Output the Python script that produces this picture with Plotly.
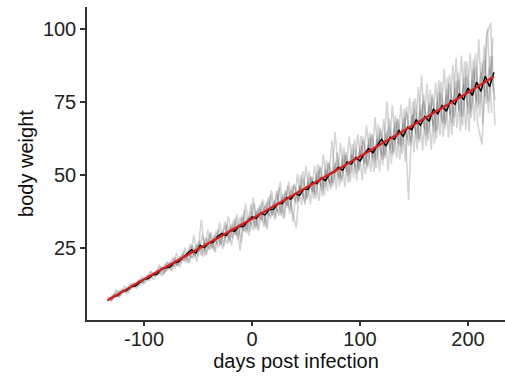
import plotly.graph_objects as go

# Measurement days (grid of the first animal); other animals were weighed 1-3 days later
DAYS = [-134, -130, -126, -122, -118, -114, -110, -106, -102, -98, -94, -90, -86, -82, -78,
        -74, -70, -66, -62, -58, -54, -50, -46, -42, -38, -34, -30, -26, -22, -18,
        -14, -10, -6, -2, 2, 6, 10, 14, 18, 22, 26, 30, 34, 38, 42,
        46, 50, 54, 58, 62, 66, 70, 74, 78, 82, 86, 90, 94, 98, 102,
        106, 110, 114, 118, 122, 126, 130, 134, 138, 142, 146, 150, 154, 158, 162,
        166, 170, 174, 178, 182, 186, 190, 194, 198, 202, 206, 210, 214, 218, 222]

ANIMAL_OFFSETS = [0, 1, 2, 3, 1, 3]

animal_1 = [8.4, 7.0, 10.5, 9.0, 11.9, 10.5, 13.1, 11.7, 15.1, 14.1, 17.0, 15.2, 19.2, 15.8, 20.3,
            17.1, 23.2, 19.5, 25.1, 19.7, 29.3, 22.1, 29.4, 22.7, 30.3, 23.4, 33.7, 25.6, 35.9, 28.2,
            36.6, 26.9, 40.2, 30.6, 40.4, 30.8, 41.6, 31.4, 44.8, 35.1, 47.5, 35.3, 47.7, 34.0, 50.4,
            39.7, 53.1, 39.9, 53.3, 41.1, 57.0, 44.4, 61.7, 45.1, 60.9, 45.8, 63.1, 49.0, 63.9, 48.2,
            67.1, 51.0, 69.8, 51.2, 69.1, 51.4, 73.8, 55.7, 74.1, 54.4, 76.3, 57.7, 80.1, 58.4, 81.3,
            58.7, 81.6, 63.5, 86.3, 62.7, 87.6, 66.0, 90.9, 65.3, 91.6, 68.5, 96.4, 67.3, 100.2, 71.1]

animal_2 = [6.8, 9.0, 8.5, 10.7, 9.9, 11.9, 11.4, 13.8, 13.1, 15.7, 15.0, 17.1, 16.0, 19.5, 17.8,
            20.9, 18.9, 23.1, 20.9, 25.4, 21.8, 27.4, 23.6, 28.4, 24.6, 29.9, 25.9, 32.6, 27.9, 34.7,
            29.1, 35.4, 30.2, 37.6, 32.4, 39.8, 33.6, 40.9, 36.3, 43.6, 37.0, 44.3, 38.2, 46.5, 40.9,
            48.7, 42.1, 49.4, 43.3, 52.6, 45.5, 53.9, 46.2, 55.1, 48.4, 57.8, 50.6, 59.0, 51.4, 61.7,
            53.1, 64.0, 55.3, 65.2, 55.6, 66.4, 57.8, 69.2, 60.1, 71.4, 61.3, 72.7, 62.1, 75.4, 64.3,
            76.7, 65.1, 78.0, 67.3, 81.2, 69.6, 82.5, 69.9, 83.8, 72.1, 87.0, 74.4, 89.3, 75.2, 90.6]

animal_3 = [7.7, 8.8, 8.6, 10.0, 11.1, 10.9, 12.7, 12.8, 14.5, 14.2, 15.8, 15.9, 18.0, 17.4, 19.3,
            18.7, 21.1, 20.8, 23.1, 21.7, 25.3, 23.8, 26.6, 24.7, 28.1, 26.6, 30.3, 28.6, 32.2, 29.7,
            33.3, 30.9, 35.2, 32.8, 37.4, 34.8, 39.3, 35.9, 40.3, 37.1, 42.5, 39.5, 44.7, 41.0, 46.1,
            42.2, 47.6, 44.2, 50.1, 46.1, 51.5, 47.1, 52.9, 49.1, 55.4, 51.1, 56.9, 52.0, 58.4, 53.7,
            60.8, 55.7, 62.3, 56.7, 63.9, 58.9, 66.3, 60.5, 67.6, 61.9, 70.1, 64.2, 72.1, 65.4, 73.6,
            66.7, 75.1, 68.3, 77.3, 70.4, 79.6, 72.0, 81.1, 73.3, 82.6, 75.3, 85.2, 76.8, 87.2, 78.3]

animal_4 = [6.4, 9.4, 8.2, 10.8, 9.4, 12.4, 11.2, 14.4, 12.9, 15.5, 14.2, 17.3, 15.4, 20.0, 17.3,
            21.8, 18.4, 23.8, 19.9, 25.9, 20.3, 34.6, 22.4, 30.2, 23.9, 31.4, 24.7, 33.4, 25.9, 35.2,
            24.1, 37.9, 29.2, 42.1, 31.4, 40.8, 32.1, 43.4, 34.8, 45.6, 35.0, 46.3, 37.7, 32.0, 49.9,
            39.7, 51.1, 41.9, 53.8, 42.6, 55.0, 44.9, 64.7, 46.1, 59.4, 47.3, 60.6, 48.0, 63.4, 50.2,
            64.6, 51.0, 67.3, 53.2, 75.1, 53.9, 70.3, 55.2, 72.6, 41.4, 75.3, 58.7, 84.1, 59.9, 79.3,
            60.7, 82.6, 63.0, 83.3, 63.7, 90.1, 65.0, 88.9, 64.8, 89.6, 67.5, 60.4, 97.3, 102.2, 67.1]

animal_5 = [7.9, 7.3, 10.1, 10.1, 9.6, 12.7, 11.7, 14.0, 12.8, 15.1, 16.7, 15.5, 18.7, 16.4, 19.6,
            21.6, 19.0, 22.3, 20.1, 26.4, 22.3, 26.6, 21.9, 31.2, 25.1, 30.9, 26.2, 34.1, 26.9, 33.2,
            27.6, 36.4, 31.2, 40.1, 31.4, 38.8, 32.1, 42.4, 35.8, 44.6, 36.0, 44.8, 36.7, 47.0, 40.9,
            51.2, 41.6, 49.4, 41.8, 53.1, 43.0, 54.4, 47.2, 57.6, 47.4, 56.8, 47.6, 62.0, 51.9, 63.2,
            52.1, 63.5, 52.3, 66.2, 56.6, 69.4, 56.8, 69.2, 57.1, 73.4, 59.8, 76.2, 61.1, 77.4, 61.8,
            77.7, 62.6, 82.0, 65.8, 84.2, 66.6, 85.0, 66.9, 88.8, 69.6, 91.5, 69.9, 94.3, 71.2, 97.1]

animal_6 = [7.0, 8.9, 8.1, 10.4, 10.1, 12.3, 12.5, 12.3, 14.6, 13.8, 16.1, 15.6, 18.5, 17.0, 19.9,
            18.3, 21.9, 20.5, 23.9, 21.4, 26.3, 22.4, 28.4, 24.4, 29.3, 25.1, 30.5, 26.4, 33.2, 29.2,
            35.6, 30.4, 35.7, 31.1, 38.4, 34.3, 40.6, 34.9, 41.3, 36.1, 43.5, 38.8, 46.2, 40.0, 46.4,
            40.7, 49.1, 43.9, 51.3, 44.6, 52.0, 45.9, 54.2, 48.6, 56.9, 49.8, 57.1, 50.5, 59.9, 53.7,
            62.6, 54.5, 63.8, 55.2, 65.1, 57.4, 68.3, 59.7, 69.6, 59.9, 70.8, 62.2, 74.1, 63.4, 74.8,
            64.7, 78.1, 67.5, 79.3, 67.7, 82.1, 70.0, 83.4, 70.8, 86.1, 73.0, 88.4, 74.3, 90.7, 75.6]

MEAN_OFFSET = 2
mean_weight = [7.6, 8.3, 8.8, 10.1, 10.5, 11.7, 12.0, 13.2, 14.3, 14.5, 15.8, 16.0, 17.7, 18.2, 18.4,
               19.9, 20.2, 21.7, 22.9, 24.4, 23.2, 25.8, 25.1, 26.7, 26.9, 28.9, 29.9, 29.2, 31.0, 30.7,
               32.4, 32.3, 34.1, 35.6, 35.1, 36.9, 36.3, 38.1, 38.2, 40.3, 40.2, 42.2, 41.7, 43.6, 43.0,
               45.1, 45.1, 47.5, 47.0, 48.9, 48.0, 50.4, 50.9, 52.6, 51.6, 54.4, 53.7, 55.9, 54.8, 57.2,
               59.0, 57.6, 60.1, 62.2, 59.9, 62.9, 62.2, 65.2, 63.2, 66.3, 65.5, 68.8, 67.0, 69.9, 68.5,
               72.4, 70.9, 73.7, 71.8, 75.5, 74.2, 77.8, 75.7, 79.8, 77.2, 81.7, 78.6, 83.8, 80.2, 85.1]

fit_days = [-134, -100, -50, 0, 50, 100, 150, 200, 224]
fit_weight = [7.0, 14.3, 24.6, 35.0, 45.6, 56.3, 67.2, 78.2, 83.7]

x_ticks = [-100, 0, 100, 200]
x_tick_text = ["-100", "0", "100", "200"]
y_ticks = [25, 50, 75, 100]

fig = go.Figure()
animals = [animal_1, animal_2, animal_3, animal_4, animal_5, animal_6]
for off, series in zip(ANIMAL_OFFSETS, animals):
    fig.add_trace(go.Scatter(x=[d + off for d in DAYS], y=series, mode="lines",
                             line=dict(color="rgba(105,105,105,0.28)", width=1.6),
                             showlegend=False, hoverinfo="skip"))
fig.add_trace(go.Scatter(x=[d + MEAN_OFFSET for d in DAYS], y=mean_weight, mode="lines",
                         line=dict(color="black", width=1.5), showlegend=False))
fig.add_trace(go.Scatter(x=fit_days, y=fit_weight, mode="lines", line_shape="spline",
                         line=dict(color="#dd1c1c", width=2.2), showlegend=False))

FONT = "Liberation Sans, Arial, sans-serif"
axis_common = dict(showline=True, linecolor="#333333", linewidth=1.5, ticks="outside",
                   tickwidth=1.5, tickcolor="#333333", showgrid=False, zeroline=False,
                   tickfont=dict(family=FONT, size=20, color="#222222"),
                   title_font=dict(family=FONT, size=20, color="#111111"))

fig.update_layout(
    width=505, height=378,
    margin=dict(l=87, r=0, t=7, b=58),
    paper_bgcolor="white", plot_bgcolor="white",
    xaxis=dict(range=[-152.8, 234.3], tickvals=x_ticks, ticktext=x_tick_text,
               ticklen=4, ticklabelstandoff=-4,
               title=dict(text="days post infection", standoff=4), **axis_common),
    yaxis=dict(range=[0.3, 107.5], tickvals=y_ticks, ticklen=5,
               title=dict(text="body weight", standoff=4), **axis_common),
)

fig.write_html("out.html")
